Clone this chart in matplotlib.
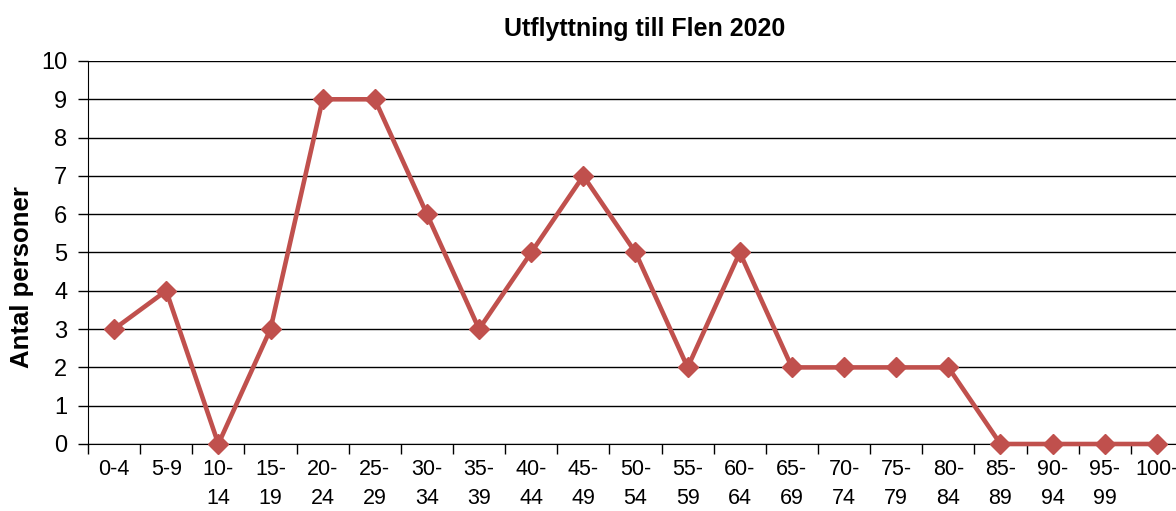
# Utflyttning till Flen 2020
import numpy as np
import matplotlib.pyplot as plt

plt.rcParams['font.family'] = ['Liberation Sans', 'DejaVu Sans']

# åldersgrupper och antal personer
age_groups = ["0-4", "5-9", "10-\n14", "15-\n19", "20-\n24", "25-\n29", "30-\n34",
              "35-\n39", "40-\n44", "45-\n49", "50-\n54", "55-\n59", "60-\n64",
              "65-\n69", "70-\n74", "75-\n79", "80-\n84", "85-\n89", "90-\n94",
              "95-\n99", "100-"]
persons = [3, 4, 0, 3, 9, 9, 6, 3, 5, 7, 5, 2, 5, 2, 2, 2, 2, 0, 0, 0, 0]
y_ticks = list(range(0, 11))

fig = plt.figure(figsize=(11.76, 5.11), dpi=100)
# axeln går lite utanför bildens högra kant, som i originalet
ax = fig.add_axes([88 / 1176, 1 - 444 / 511, 1095 / 1176, 383 / 511])

x = np.arange(len(persons))
ax.plot(x, persons, color="#C0504D", linewidth=3.3, marker="D", markersize=10,
        clip_on=False, zorder=3)

ax.set_xlim(-0.5, len(persons) - 0.5)
ax.set_ylim(0, 10)
ax.set_yticks(y_ticks)
ax.set_yticklabels([str(v) for v in y_ticks], fontsize=17)
ax.yaxis.grid(True, color="black", linewidth=1)
ax.set_axisbelow(True)

# kategorinamn i mitten, tickstreck på gränserna
ax.set_xticks(np.arange(len(persons) + 1) - 0.5)
ax.set_xticklabels([])
ax.set_xticks(x, minor=True)
ax.set_xticklabels(age_groups, minor=True, fontsize=15.5, linespacing=1.5)
ax.tick_params(axis="x", which="minor", length=0, pad=11)
ax.tick_params(axis="x", which="major", length=7, width=1, color="black")
ax.tick_params(axis="y", length=7, width=1, color="black", pad=8)

for side in ["top", "right"]:
    ax.spines[side].set_visible(False)
ax.spines["left"].set_color("black")
ax.spines["bottom"].set_color("black")

# y-etiketten sitter lite lägre än axelns mitt i originalet
fig.text(22 / 1176, 1 - 277 / 511, "Antal personer", fontsize=18.5,
         fontweight="bold", rotation=90, ha="center", va="center")
fig.text(645 / 1176, 1 - 29 / 511, "Utflyttning till Flen 2020", fontsize=18,
         fontweight="bold", ha="center", va="center")

plt.savefig("out.png", dpi=100)
